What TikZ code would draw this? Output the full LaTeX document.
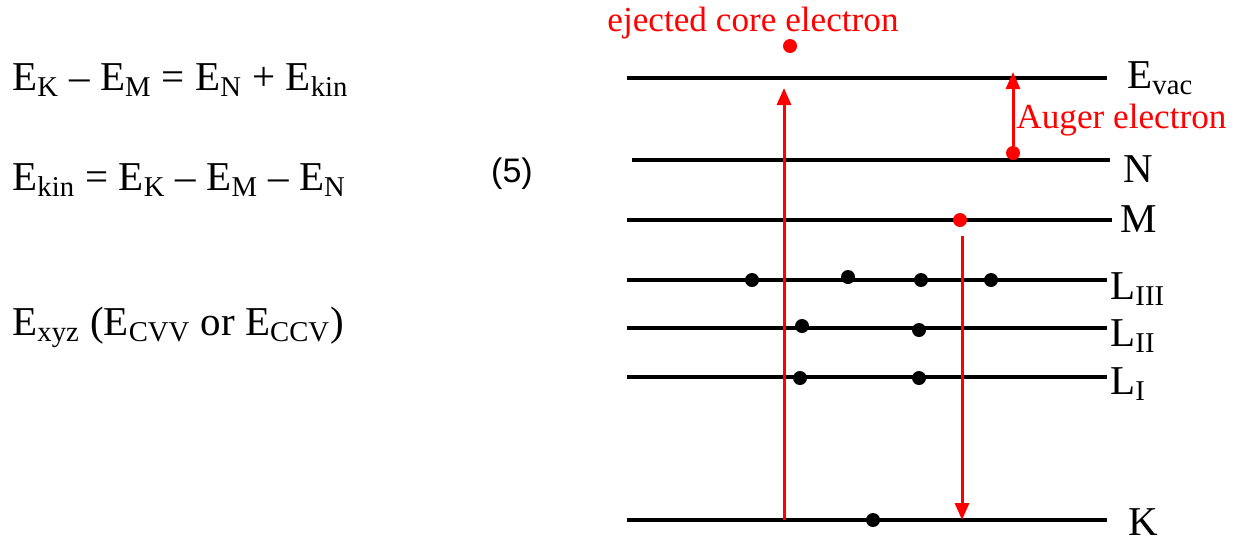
\documentclass[tikz,border=0pt]{standalone}
\usepackage{fontspec}
\setmainfont{Liberation Serif}
\newfontfamily\numfont{Liberation Sans}
\usetikzlibrary{arrows.meta, positioning}
\definecolor{augc}{HTML}{FF0000}

\begin{document}
\begin{tikzpicture}[x=0.5pt, y=-0.5pt, >={Triangle[length=8.5pt, width=7pt]}]
    \tikzset{
      level/.style={line width=2pt, black},
      lvlabel/.style={anchor=base west, inner sep=0pt, font=\fontsize{20.5}{24}\selectfont},
      eqn/.style={anchor=base west, inner sep=0pt, font=\fontsize{20.5}{24}\selectfont},
      edot/.style={circle, fill=black, inner sep=0pt, minimum size=7pt},
      rdot/.style={edot, fill=augc},
      trans/.style={->, augc, line width=1.5pt},
      rtext/.style={augc, anchor=base west, inner sep=0pt, font=\fontsize{17.6}{21}\selectfont}
    }
    \useasboundingbox (0,0) rectangle (1235,542);
    % equations
    \node[eqn] (eqa) at (12,90)
      {E\textsubscript{K} -- E\textsubscript{M} = E\textsubscript{N} + E\textsubscript{kin}};
    \node[eqn] (eqb) at (12,190)
      {E\textsubscript{kin} = E\textsubscript{K} -- E\textsubscript{M} -- E\textsubscript{N}};
    \node[anchor=center, inner sep=0pt, font=\numfont\fontsize{17}{20}\selectfont]
      (eqno) at (512,174) {(5)};
    \node[eqn] (eqc) at (12,335)
      {E\textsubscript{xyz}\ (E\textsubscript{CVV} or E\textsubscript{CCV})};
    % energy levels
    \draw[level] (627,78) coordinate (vacL) -- (1107,78) coordinate (vacR);
    \draw[level] (632,160) coordinate (nL) -- (1110,160) coordinate (nR);
    \draw[level] (627,220) coordinate (mL) -- (1112,220) coordinate (mR);
    \draw[level] (627,280) coordinate (l3L) -- (1107,280) coordinate (l3R);
    \draw[level] (627,328) coordinate (l2L) -- (1107,328) coordinate (l2R);
    \draw[level] (627,377) coordinate (l1L) -- (1107,377) coordinate (l1R);
    \draw[level] (627,520) coordinate (kL) -- (1107,520) coordinate (kR);
    % level labels
    \node[lvlabel] (vac) at (1127,88) {E\textsubscript{vac}};
    \node[lvlabel] (n) at (1123,182) {N};
    \node[lvlabel] (m) at (1120,232) {M};
    \node[lvlabel] (l3) at (1110,299) {L\textsubscript{III}};
    \node[lvlabel] (l2) at (1110,346) {L\textsubscript{II}};
    \node[lvlabel] (l1) at (1110,394) {L\textsubscript{I}};
    \node[lvlabel] (k) at (1128,535) {K};
    % electrons
    \foreach \x/\y [count=\i] in {752/280, 848/277, 921/280, 991/280}
      \node[edot] (la\i) at (\x,\y) {};
    \foreach \x/\y [count=\i] in {802/326, 919/330}
      \node[edot] (lb\i) at (\x,\y) {};
    \foreach \x/\y [count=\i] in {800/378, 919/378}
      \node[edot] (lc\i) at (\x,\y) {};
    \node[edot] (kdot) at (873,520) {};
    \node[rdot] (core) at (790,46) {};
    \node[rdot] (auger) at (1013,153) {};
    \node[rdot] (mdot) at (960,220) {};
    % transitions
    \coordinate (exc0) at (784,520);
    \coordinate (exc1) at (784,88);
    \coordinate (aug1) at (1013,72);
    \coordinate (fill0) at (962,236);
    \coordinate (fill1) at (962,520);
    \draw[trans] (exc0) -- (exc1);
    \draw[trans] (auger) -- (aug1);
    \draw[trans] (fill0) -- (fill1);
    \node[rtext] (coretxt) at (607,31) {ejected core electron};
    \node[rtext] (augtxt) at (1016,128) {Auger electron};
\end{tikzpicture}
\end{document}
